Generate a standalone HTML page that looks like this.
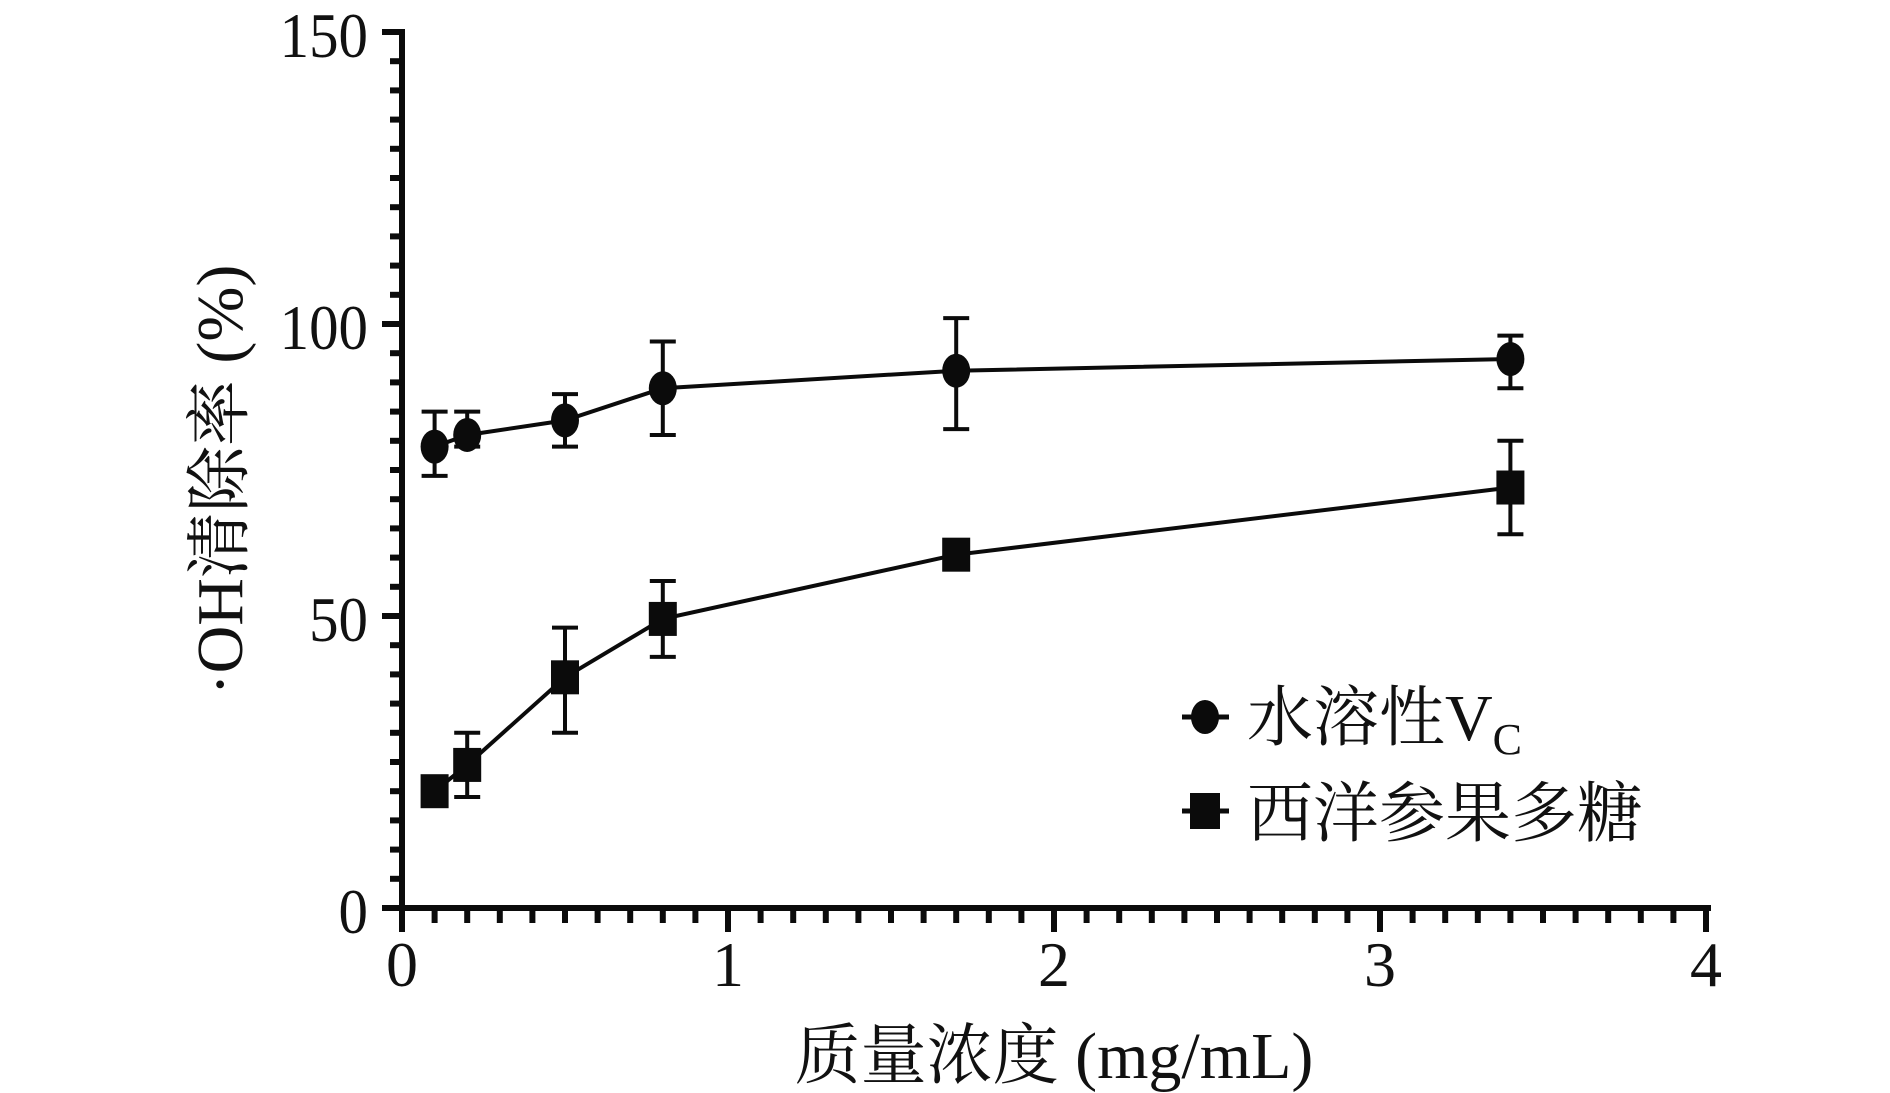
<!DOCTYPE html>
<html><head><meta charset="utf-8"><style>
html,body{margin:0;padding:0;background:#fff;}
svg{display:block}
text{fill:#111}
</style></head><body>
<svg width="1890" height="1093" viewBox="0 0 1890 1093" xmlns="http://www.w3.org/2000/svg">
<g stroke="#0b0b0b" fill="none">
<line x1="402" y1="29" x2="402" y2="911" stroke-width="6"/>
<line x1="399" y1="908" x2="1711" y2="908" stroke-width="6"/>
<g id="yt" stroke-width="6"></g>
<g id="xt" stroke-width="6"></g>
</g>
<g font-family="'Liberation Serif','Noto Serif CJK SC',serif" font-size="64" text-anchor="end">
<text x="368" y="57" transform="scale(0.92,1)" transform-origin="368 57">150</text>
<text x="368" y="349" transform-origin="368 349" transform="scale(0.92,1)">100</text>
<text x="368" y="641" transform-origin="368 641" transform="scale(0.92,1)">50</text>
<text x="368" y="933" transform-origin="368 933" transform="scale(0.92,1)">0</text>
</g>
<g font-family="'Liberation Serif',serif" font-size="64" text-anchor="middle">
<text x="402" y="986">0</text>
<text x="728" y="986">1</text>
<text x="1054" y="986">2</text>
<text x="1380" y="986">3</text>
<text x="1706" y="986">4</text>
</g>
<text x="1054" y="1078" text-anchor="middle" font-family="'Liberation Serif','Noto Serif CJK SC',serif" font-size="66">质量浓度 (mg/mL)</text>
<text transform="translate(242,480) rotate(-90)" text-anchor="middle" font-family="'Liberation Serif','Noto Serif CJK SC',serif" font-size="66">·OH清除率 (%)</text>
<g id="data" stroke="#0b0b0b" stroke-width="4" fill="#0b0b0b"></g>
<g stroke="#0b0b0b" stroke-width="5">
<line x1="1182" y1="717" x2="1229" y2="717"/>
<line x1="1182" y1="811" x2="1229" y2="811"/>
</g>
<ellipse cx="1205" cy="717" rx="14" ry="17" fill="#0b0b0b"/>
<rect x="1190" y="793" width="30" height="36" fill="#0b0b0b"/>
<g font-family="'Liberation Serif','Noto Serif CJK SC',serif" font-size="66">
<text x="1247" y="740">水溶性V<tspan font-size="44" dy="14">C</tspan></text>
<text x="1247" y="836">西洋参果多糖</text>
</g>
<script>
var ns="http://www.w3.org/2000/svg";
function el(t,a,p){var e=document.createElementNS(ns,t);for(var k in a)e.setAttribute(k,a[k]);p.appendChild(e);return e;}
var yt=document.getElementById('yt'),xt=document.getElementById('xt');
var X=function(v){return 402+v*326},Y=function(v){return 908-v*5.84};
for(var i=0;i<=30;i++){var y=Y(i*5);var maj=(i%10==0);el('line',{x1:maj?382:390,x2:402,y1:y,y2:y},yt);}
for(var i=0;i<=40;i++){var x=X(i/10);var maj=(i%10==0);el('line',{x1:x,x2:x,y1:908,y2:maj?932:923},xt);}
var d=document.getElementById('data');
var xs=[0.1,0.2,0.5,0.8,1.7,3.4];
var vc=[[79,74,85],[81,79,85],[83.5,79,88],[89,81,97],[92,82,101],[94,89,98]];
var ps=[[20,20,20],[24.5,19,30],[39.5,30,48],[49.5,43,56],[60.5,60.5,60.5],[72,64,80]];
function series(arr,sq){
 var pts=arr.map(function(a,i){return X(xs[i])+','+Y(a[0])}).join(' ');
 el('polyline',{points:pts,fill:'none'},d);
 arr.forEach(function(a,i){var x=X(xs[i]);
  if(a[1]!=a[2]){el('line',{x1:x,x2:x,y1:Y(a[1]),y2:Y(a[2])},d);
   el('line',{x1:x-13,x2:x+13,y1:Y(a[1]),y2:Y(a[1])},d);
   el('line',{x1:x-13,x2:x+13,y1:Y(a[2]),y2:Y(a[2])},d);}
  if(sq)el('rect',{x:x-14,y:Y(a[0])-17,width:28,height:34,stroke:'none'},d);
  else el('ellipse',{cx:x,cy:Y(a[0]),rx:14,ry:17,stroke:'none'},d);
 });
}
series(vc,false);series(ps,true);
</script>
</svg>
</body></html>
